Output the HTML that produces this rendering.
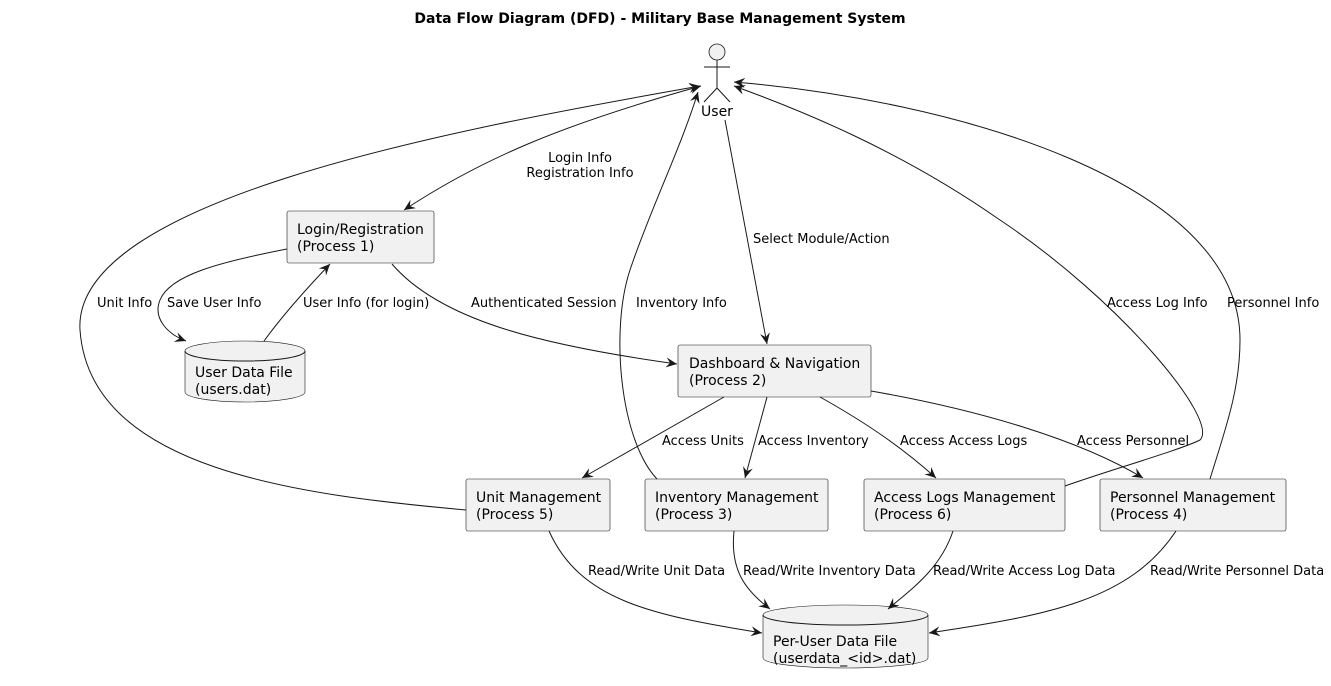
<!DOCTYPE html>
<html><head><meta charset="utf-8"><style>
html,body{margin:0;padding:0;background:#fff;}
svg{display:block;}
text{font-family:"DejaVu Sans","Liberation Sans",sans-serif;fill:#000;}
.n{font-size:14px;}
.l{font-size:13px;}
.box{fill:#f1f1f1;stroke:#181818;stroke-width:0.6;}
.e{fill:none;stroke:#181818;stroke-width:1;}
</style></head><body>
<svg width="1331" height="686" viewBox="0 0 1331 686" xmlns="http://www.w3.org/2000/svg">
<defs>
<marker id="a" viewBox="0 0 12 10" refX="11" refY="5" markerWidth="12" markerHeight="10" markerUnits="userSpaceOnUse" orient="auto-start-reverse">
<path d="M0,0 L11,5 L0,10 L4,5 Z" fill="#181818"/>
</marker>
</defs>
<text x="660" y="23" text-anchor="middle" style="font-size:14px;font-weight:bold">Data Flow Diagram (DFD) - Military Base Management System</text>

<circle cx="717" cy="52" r="8" fill="#f1f1f1" stroke="#181818" stroke-width="0.8"/>
<line x1="717" y1="60" x2="717" y2="88" stroke="#181818"/>
<line x1="704" y1="67" x2="730" y2="67" stroke="#181818"/>
<line x1="717" y1="88" x2="704" y2="102" stroke="#181818"/>
<line x1="717" y1="88" x2="730" y2="102" stroke="#181818"/>
<text class="n" x="717" y="116" text-anchor="middle">User</text>

<rect class="box" x="287" y="211" width="147" height="52" rx="2"/>
<text class="n" x="297" y="234">Login/Registration</text><text class="n" x="297" y="251">(Process 1)</text>
<rect class="box" x="678" y="345" width="193" height="52" rx="2"/>
<text class="n" x="689" y="368">Dashboard &amp; Navigation</text><text class="n" x="689" y="385">(Process 2)</text>
<rect class="box" x="466" y="479" width="144" height="52" rx="2"/>
<text class="n" x="476" y="502">Unit Management</text><text class="n" x="476" y="519">(Process 5)</text>
<rect class="box" x="645" y="479" width="183" height="52" rx="2"/>
<text class="n" x="655" y="502">Inventory Management</text><text class="n" x="655" y="519">(Process 3)</text>
<rect class="box" x="864" y="479" width="201" height="52" rx="2"/>
<text class="n" x="874" y="502">Access Logs Management</text><text class="n" x="874" y="519">(Process 6)</text>
<rect class="box" x="1100" y="479" width="186" height="52" rx="2"/>
<text class="n" x="1110" y="502">Personnel Management</text><text class="n" x="1110" y="519">(Process 4)</text>

<path class="box" d="M185,351 A60,10 0 0 1 305,351 L305,392 A60,10 0 0 1 185,392 Z"/>
<path class="e" d="M185,351 A60,10 0 0 0 305,351" stroke-width="0.6"/>
<text class="n" x="195" y="377">User Data File</text><text class="n" x="195" y="394">(users.dat)</text>
<path class="box" d="M763,615 A82.5,10 0 0 1 928,615 L928,658 A82.5,10 0 0 1 763,658 Z"/>
<path class="e" d="M763,615 A82.5,10 0 0 0 928,615" stroke-width="0.6"/>
<text class="n" x="773" y="646">Per-User Data File</text><text class="n" x="773" y="663">(userdata_&lt;id&gt;.dat)</text>

<path class="e" marker-start="url(#a)" marker-end="url(#a)" d="M404,210 C480,160 560,125 701,86"/>
<text class="l" x="580" y="162" text-anchor="middle">Login Info</text>
<text class="l" x="580" y="177" text-anchor="middle">Registration Info</text>

<path class="e" marker-end="url(#a)" d="M725,120 L767,344"/>
<text class="l" x="753" y="243">Select Module/Action</text>

<path class="e" marker-end="url(#a)" d="M287,249 C220,262 170,275 160,300 C152,320 170,335 186,341"/>
<text class="l" x="167" y="307">Save User Info</text>

<path class="e" marker-end="url(#a)" d="M264,341 C285,312 310,285 330,264"/>
<text class="l" x="303" y="307">User Info (for login)</text>

<path class="e" marker-end="url(#a)" d="M392,264 C440,320 540,345 677,364"/>
<text class="l" x="471" y="307">Authenticated Session</text>

<path class="e" marker-end="url(#a)" d="M466,510 C300,495 90,470 80,330 C72,200 450,130 700,86"/>
<text class="l" x="97" y="307">Unit Info</text>

<path class="e" marker-end="url(#a)" d="M657,479 C620,440 610,330 630,270 C650,210 680,150 698,92"/>
<text class="l" x="636" y="307">Inventory Info</text>

<path class="e" marker-end="url(#a)" d="M1065,486 C1110,470 1180,450 1200,440 C1220,420 1120,300 1000,220 C900,150 800,110 734,86"/>
<text class="l" x="1107" y="307">Access Log Info</text>

<path class="e" marker-end="url(#a)" d="M1210,479 C1225,430 1240,390 1240,340 C1240,180 950,100 734,82"/>
<text class="l" x="1227" y="307">Personnel Info</text>

<path class="e" marker-end="url(#a)" d="M724,397 L582,478"/>
<text class="l" x="662" y="445">Access Units</text>
<path class="e" marker-end="url(#a)" d="M767,397 L745,478"/>
<text class="l" x="758" y="445">Access Inventory</text>
<path class="e" marker-end="url(#a)" d="M820,397 C870,425 905,450 936,478"/>
<text class="l" x="900" y="445">Access Access Logs</text>
<path class="e" marker-end="url(#a)" d="M871,391 C980,410 1080,440 1143,478"/>
<text class="l" x="1077" y="445">Access Personnel</text>

<path class="e" marker-end="url(#a)" d="M549,531 C580,600 650,615 762,633"/>
<text class="l" x="588" y="575">Read/Write Unit Data</text>
<path class="e" marker-end="url(#a)" d="M734,531 C730,570 745,590 770,609"/>
<text class="l" x="743" y="575">Read/Write Inventory Data</text>
<path class="e" marker-end="url(#a)" d="M953,531 C940,570 910,590 888,609"/>
<text class="l" x="933" y="575">Read/Write Access Log Data</text>
<path class="e" marker-end="url(#a)" d="M1176,531 C1130,600 1050,615 929,633"/>
<text class="l" x="1150" y="575">Read/Write Personnel Data</text>
</svg>
</body></html>
